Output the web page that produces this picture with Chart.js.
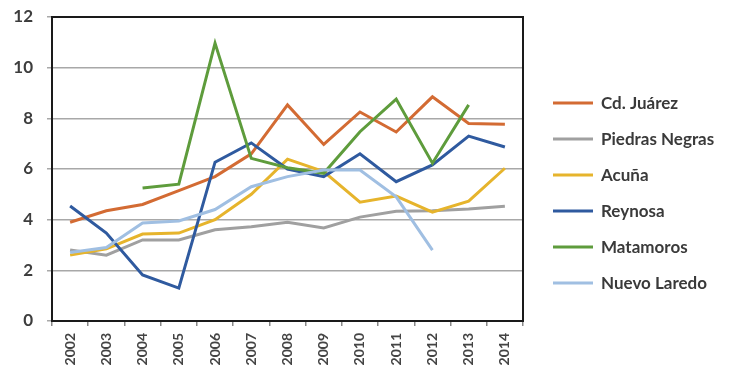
<!DOCTYPE html>
<html><head><meta charset="utf-8">
<script src="https://cdn.jsdelivr.net/npm/chart.js@4"></script>
<style>html,body{margin:0;padding:0;background:#fff}#wrap{width:738px;height:378px}</style>
</head><body><div id="wrap"><canvas id="c" width="738" height="378"></canvas></div>
<script>
const years = ['2002','2003','2004','2005','2006','2007','2008','2009','2010','2011','2012','2013','2014'];
const seriesNames = ['Cd. Juárez','Piedras Negras','Acuña','Reynosa','Matamoros','Nuevo Laredo'];
const juarez = [3.9,4.35,4.6,5.15,5.7,6.6,8.53,6.97,8.25,7.46,8.85,7.8,7.77];
const piedrasNegras = [2.8,2.6,3.2,3.2,3.6,3.72,3.9,3.67,4.1,4.33,4.35,4.42,4.53];
const acuna = [2.6,2.85,3.43,3.47,4.0,5.0,6.39,5.9,4.69,4.93,4.3,4.73,6.03];
const reynosa = [4.54,3.47,1.82,1.3,6.27,7.03,6.0,5.7,6.6,5.5,6.16,7.3,6.87];
const matamoros = [null,null,5.25,5.4,10.97,6.42,6.05,5.83,7.47,8.76,6.23,8.53,null];
const nuevoLaredo = [2.7,2.9,3.87,3.95,4.4,5.3,5.7,5.96,5.96,4.9,2.8,null,null];
const yTicks = [0,2,4,6,8,10,12];
const colors = ['#D36B33','#A0A0A0','#E6B42C','#2F5A9F','#5E9C3C','#A0BFE2'];
const values = [juarez,piedrasNegras,acuna,reynosa,matamoros,nuevoLaredo];

const datasets = seriesNames.map((n,i)=>({
  label:n, data:values[i], borderColor:colors[i], backgroundColor:colors[i],
  borderWidth:3, pointRadius:0, tension:0, fill:false, order:6-i
}));

const frame = {
  id:'frame',
  afterDatasetsDraw(chart){
    const a = chart.chartArea, ctx = chart.ctx;
    ctx.save();
    ctx.strokeStyle = '#1a1a1a'; ctx.lineWidth = 2;
    ctx.strokeRect(a.left, a.top, a.right-a.left, a.bottom-a.top);
    ctx.restore();
  },
  afterDraw(chart){
    const ctx = chart.ctx;
    ctx.save();
    chart.data.datasets.forEach((d,i)=>{
      const y = 103 + i*36;
      ctx.strokeStyle = d.borderColor; ctx.lineWidth = 3;
      ctx.beginPath(); ctx.moveTo(553,y); ctx.lineTo(593,y); ctx.stroke();
      ctx.fillStyle = '#3a3a3a';
      ctx.font = 'bold 17px Lato';
      ctx.textBaseline = 'middle'; ctx.textAlign = 'left';
      ctx.fillText(d.label, 601, y+1);
    });
    ctx.restore();
  }
};

new Chart(document.getElementById('c'), {
  type:'line',
  data:{labels:years, datasets},
  options:{
    responsive:false, animation:false,
    layout:{padding:{left:0,top:17,right:215,bottom:0}},
    plugins:{legend:{display:false}, tooltip:{enabled:false}},
    scales:{
      x:{
        offset:true,
        grid:{display:true, drawOnChartArea:false, drawTicks:true, tickLength:5, color:'#888', lineWidth:1.5, offset:true},
        border:{display:true,color:'#1a1a1a',width:2},
        ticks:{minRotation:90,maxRotation:90,padding:7,color:'#444',font:{family:'Lato',size:14,weight:'bold'}},
        afterFit(s){ s.height = 57; s.paddingLeft = 0; s.paddingRight = 0; s.paddingTop = 0; s.paddingBottom = 0; }
      },
      y:{
        min:0,max:12,
        afterBuildTicks(s){ s.ticks = yTicks.map(v=>({value:v})); },
        grid:{color:'#A8A8A8', lineWidth:1.5, tickLength:5, drawTicks:true},
        border:{display:true,color:'#1a1a1a',width:2},
        ticks:{padding:14,color:'#3d3d3d',font:{family:'Lato',size:17,weight:'bold'}},
        afterFit(s){ s.width = 52; s.paddingTop = 0; s.paddingBottom = 0; s.paddingLeft = 0; s.paddingRight = 0; }
      }
    }
  },
  plugins:[frame]
});
</script></body></html>
